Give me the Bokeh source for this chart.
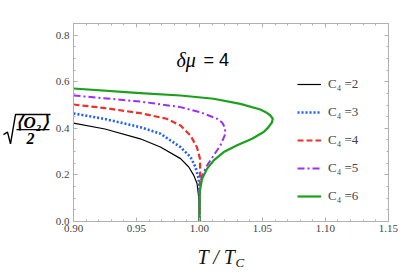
from bokeh.plotting import figure
from bokeh.layouts import row, column
from bokeh.models import (Label, LinearAxis, SingleIntervalTicker, NumeralTickFormatter,
                          Legend, LegendItem, CustomJSTickFormatter, Range1d)
from bokeh.core.properties import value
from bokeh.embed import file_html
from bokeh.resources import INLINE

# ---- data ----
t_c2 = [0.900, 0.925, 0.953, 0.969, 0.985, 0.9915, 0.9955, 0.9981, 0.9995, 1.000]
v_c2 = [0.422, 0.397, 0.355, 0.320, 0.270, 0.234, 0.198, 0.163, 0.100, 0.000]

t_c3 = [0.900, 0.925, 0.953, 0.969, 0.985, 0.9929, 0.9968, 0.9994, 0.9999, 1.000]
v_c3 = [0.464, 0.440, 0.405, 0.377, 0.319, 0.277, 0.234, 0.184, 0.120, 0.000]

t_c4 = [0.900, 0.925, 0.953, 0.974, 0.985, 0.9929, 0.998, 1.0004, 1.0006, 1.0003, 1.000]
v_c4 = [0.502, 0.487, 0.465, 0.441, 0.412, 0.369, 0.319, 0.270, 0.212, 0.160, 0.000]

t_c5 = [0.900, 0.953, 0.985, 1.0008, 1.014, 1.018, 1.020, 1.0205, 1.020, 1.0167, 1.0113,
        1.0061, 1.0021, 1.0003, 1.000]
v_c5 = [0.541, 0.515, 0.491, 0.469, 0.441, 0.425, 0.405, 0.387, 0.369, 0.327, 0.284,
        0.241, 0.198, 0.155, 0.000]

t_c6 = [0.900, 0.953, 0.985, 1.0113, 1.0325, 1.0484, 1.0530, 1.0563, 1.0582, 1.0575,
        1.0545, 1.0510, 1.0418, 1.0299, 1.0193, 1.0113, 1.0061, 1.0021, 1.0002, 1.000]
v_c6 = [0.571, 0.551, 0.541, 0.527, 0.505, 0.481, 0.468, 0.455, 0.441, 0.425,
        0.403, 0.384, 0.355, 0.327, 0.298, 0.262, 0.227, 0.184, 0.127, 0.000]

series_labels = ["C\u2084 =2", "C\u2084 =3", "C\u2084 =4", "C\u2084 =5", "C\u2084 =6"]
x_ticks_major = 0.05
y_ticks_major = 0.2

X0, X1 = 0.90, 1.1501
Y0, Y1 = 0.0, 0.85

serif = "Liberation Serif"
axis_col = "#b0b0b0"

LEFT_W = 52
TOP_H = 237
TOTAL_W = 415
TOTAL_H = 277

# ---------------- main plot ----------------
p = figure(width=TOTAL_W - LEFT_W, height=TOP_H, x_range=Range1d(X0, X1), y_range=Range1d(Y0, Y1),
           output_backend="svg", toolbar_location=None,
           min_border_left=21, min_border_right=27, min_border_top=23, min_border_bottom=16)
p.grid.visible = False
p.outline_line_color = axis_col


def style_axis(ax, show_labels):
    ax.axis_line_color = axis_col
    ax.major_tick_line_color = axis_col
    ax.minor_tick_line_color = axis_col
    ax.major_tick_in = 4
    ax.major_tick_out = 0
    ax.minor_tick_in = 2
    ax.minor_tick_out = 0
    ax.major_label_text_font = serif
    ax.major_label_text_font_size = "11px"
    ax.major_label_text_color = "#444444"
    if not show_labels:
        ax.major_label_text_font_size = "4px"
        ax.major_label_standoff = 0
        ax.formatter = CustomJSTickFormatter(code="return ''")


p.xaxis[0].ticker = SingleIntervalTicker(interval=x_ticks_major, num_minor_ticks=5)
p.xaxis[0].formatter = NumeralTickFormatter(format="0.00")
p.xaxis[0].major_label_standoff = 3
style_axis(p.xaxis[0], True)
p.yaxis[0].ticker = SingleIntervalTicker(interval=y_ticks_major, num_minor_ticks=4)
p.yaxis[0].formatter = NumeralTickFormatter(format="0.0")
p.yaxis[0].major_label_standoff = 4
style_axis(p.yaxis[0], True)

top = LinearAxis(ticker=SingleIntervalTicker(interval=x_ticks_major, num_minor_ticks=5))
right = LinearAxis(ticker=SingleIntervalTicker(interval=y_ticks_major, num_minor_ticks=4))
style_axis(top, False)
style_axis(right, False)
p.add_layout(top, "above")
p.add_layout(right, "right")

r2 = p.line(t_c2, v_c2, line_color="black", line_width=1.2)
r3 = p.line(t_c3, v_c3, line_color="#1f5fff", line_width=2.6, line_dash="2 2")
r4 = p.line(t_c4, v_c4, line_color="#e8322a", line_width=2.2, line_dash="6 3")
r5 = p.line(t_c5, v_c5, line_color="#9a30f0", line_width=2.0, line_dash="7 3 2 3")
r6 = p.line(t_c6, v_c6, line_color="#1aa11a", line_width=2.2, line_join="round")

legend = Legend(items=[LegendItem(label=l, renderers=[r]) for l, r in
                       zip(series_labels, [r2, r3, r4, r5, r6])],
                location=(224, 15), glyph_width=24, glyph_height=20, spacing=8,
                label_standoff=7, padding=0, margin=0, border_line_color=None,
                background_fill_alpha=0, label_text_font=serif, label_text_font_size="13px",
                label_height=20)
p.add_layout(legend, "center")


# page pixel -> data helpers (frame: x 73..388, y 23..221)
def dx(px):
    return X0 + (px - 73.0) * (X1 - X0) / 315.0


def dy(py):
    return Y0 + (221.0 - py) * (Y1 - Y0) / 198.0


# title  δμ = 4
p.add_layout(Label(x=dx(176), y=dy(59), text="\u03b4\u03bc", text_font=serif, text_font_style="italic",
                   text_font_size="20px", text_baseline="middle", text_align="left", text_color="black"))
p.add_layout(Label(x=dx(203), y=dy(59), text="= 4", text_font="Liberation Sans",
                   text_font_size="18px", text_baseline="middle", text_align="left", text_color="black"))


def blank_fig(w, h, x_range, y_range):
    f = figure(width=w, height=h, x_range=x_range, y_range=y_range, output_backend="svg",
               toolbar_location=None, x_axis_type=None, y_axis_type=None,
               min_border=0, min_border_left=0, min_border_right=0, min_border_top=0,
               min_border_bottom=0)
    f.grid.visible = False
    f.outline_line_color = None
    return f


# ---------------- y label panel: sqrt(<O2>/2) ----------------
yl = blank_fig(LEFT_W, TOP_H, Range1d(0, LEFT_W), Range1d(TOP_H, 0))
rad_x = [3, 7, 10, 15, 50]
rad_y = [133, 130, 144, 109, 109]
yl.line(rad_x, rad_y, line_color="black", line_width=1.4)
yl.line([16, 49], [127, 127], line_color="black", line_width=1.3)
yl.text(x=[32], y=[118.5], text=["\u27e8O\u2082\u27e9"], text_font=value(serif),
        text_font_style="bold italic", text_font_size=value("17px"),
        text_baseline="middle", text_align="center", text_color="black")
yl.text(x=[30], y=[137.5], text=["2"], text_font=value(serif),
        text_font_style="bold italic", text_font_size=value("16px"),
        text_baseline="middle", text_align="center", text_color="black")

# ---------------- x label panel: T / T_C ----------------
xl = blank_fig(TOTAL_W, TOTAL_H - TOP_H, Range1d(0, TOTAL_W), Range1d(TOTAL_H, TOP_H))
xl.text(x=[197], y=[256.5], text=["T / T"], text_font=value(serif), text_font_style="italic",
        text_font_size=value("20px"), text_baseline="alphabetic", text_align="left",
        text_color="#111111")
xl.text(x=[235], y=[261.5], text=["C"], text_font=value(serif), text_font_style="italic",
        text_font_size=value("13px"), text_baseline="alphabetic", text_align="left",
        text_color="#111111")

layout = column(row(yl, p, spacing=0), xl, spacing=0)

open("out.html", "w").write(file_html(layout, INLINE))
